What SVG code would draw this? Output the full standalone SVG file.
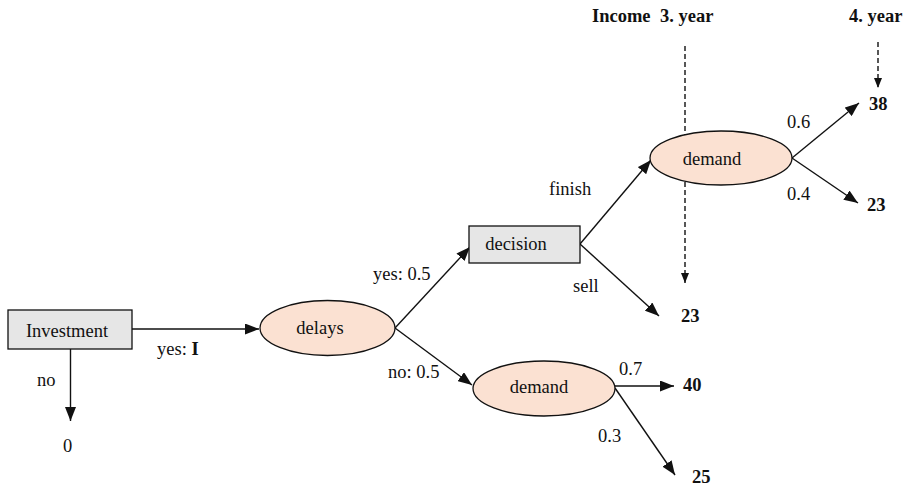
<svg xmlns="http://www.w3.org/2000/svg" width="909" height="490" viewBox="0 0 909 490" font-family="'Liberation Serif', 'DejaVu Serif', serif" font-size="18">
<style>
  text { font-family: 'Liberation Serif', 'DejaVu Serif', serif; font-size: 18.5px; fill: #111; }
  .b { font-weight: bold; }
  .m { text-anchor: middle; }
  .box { fill: #E6E6E6; stroke: #111; stroke-width: 1.3; }
  .chance { fill: #FBE1D2; stroke: #111; stroke-width: 1.3; }
  .edge { fill: none; stroke: #111; stroke-width: 1.4; marker-end: url(#arrow); }
  .dash { fill: none; stroke: #111; stroke-width: 1.4; stroke-dasharray: 5 3; marker-end: url(#arrowS); }
</style>
<defs>
  <marker id="arrow" markerUnits="userSpaceOnUse" markerWidth="15" markerHeight="11" refX="14" refY="5.5" orient="auto">
    <path d="M0,0 L14,5.5 L0,11 z" fill="#111"/>
  </marker>
  <marker id="arrowS" markerUnits="userSpaceOnUse" markerWidth="10" markerHeight="8" refX="10" refY="4" orient="auto">
    <path d="M0,0 L10,4 L0,8 z" fill="#111"/>
  </marker>
</defs>
<rect width="909" height="490" fill="#fff"/>

<g id="guides">
  <line class="dash" x1="685" y1="46" x2="685" y2="283"/>
  <line class="dash" x1="878" y1="42" x2="878" y2="88"/>
  <text class="b" x="592" y="22">Income<tspan x="660">3. year</tspan></text>
  <text class="b" x="849" y="22">4. year</text>
</g>

<g id="connectors">
  <line class="edge" x1="132" y1="329" x2="259" y2="329"/>
  <line class="edge" x1="70.5" y1="349" x2="70.5" y2="421"/>
  <line class="edge" x1="395" y1="328" x2="470" y2="247"/>
  <line class="edge" x1="395" y1="328" x2="472" y2="385"/>
  <line class="edge" x1="580" y1="244" x2="651" y2="160"/>
  <line class="edge" x1="580" y1="244" x2="659" y2="316"/>
  <line class="edge" x1="792" y1="158" x2="859" y2="103"/>
  <line class="edge" x1="792" y1="158" x2="858" y2="203"/>
  <line class="edge" x1="615" y1="386" x2="674" y2="386"/>
  <line class="edge" x1="615" y1="388" x2="675" y2="475"/>
  <text x="157" y="355">yes: <tspan class="b">I</tspan></text>
  <text x="37" y="386">no</text>
  <text x="373" y="280">yes: 0.5</text>
  <text x="388" y="378">no: 0.5</text>
  <text x="549" y="195">finish</text>
  <text x="573" y="292">sell</text>
  <text x="787" y="128">0.6</text>
  <text x="787" y="200">0.4</text>
  <text x="619" y="375">0.7</text>
  <text x="598" y="442">0.3</text>
</g>

<g id="investment">
  <rect class="box" x="8" y="310" width="124" height="39"/>
  <text class="m" x="67" y="337">Investment</text>
</g>
<g id="delays">
  <ellipse class="chance" cx="327.5" cy="328" rx="67.5" ry="27.5"/>
  <text class="m" x="320" y="334">delays</text>
</g>
<g id="decision">
  <rect class="box" x="469" y="226" width="111" height="37"/>
  <text class="m" x="516" y="250">decision</text>
</g>
<g id="demand-upper">
  <ellipse class="chance" cx="721" cy="158" rx="71" ry="27"/>
  <text class="m" x="712" y="165">demand</text>
</g>
<g id="demand-lower">
  <ellipse class="chance" cx="544" cy="388.5" rx="71" ry="27.5"/>
  <text class="m" x="539" y="393">demand</text>
</g>

<g id="outcomes">
  <text x="63" y="452">0</text>
  <text class="b" x="681" y="322">23</text>
  <text class="b" x="869" y="110">38</text>
  <text class="b" x="867" y="211">23</text>
  <text class="b" x="683" y="391">40</text>
  <text class="b" x="692" y="483">25</text>
</g>
</svg>
